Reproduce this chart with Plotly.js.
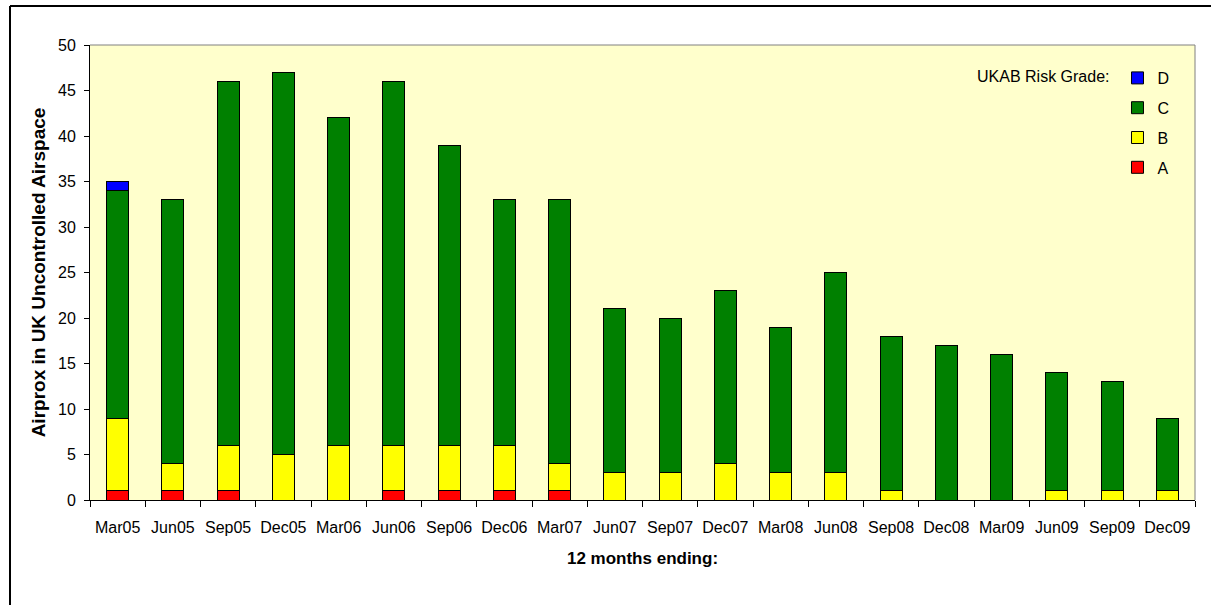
<!DOCTYPE html>
<html>
<head>
<meta charset="utf-8">
<script src="https://cdn.plot.ly/plotly-3.0.1.min.js"></script>
<style>
  html, body { margin: 0; padding: 0; background: #ffffff; }
  #chart { width: 1216px; height: 605px; }
</style>
</head>
<body>
<div id="chart"></div>
<script>
const categories = ["Mar05","Jun05","Sep05","Dec05","Mar06","Jun06","Sep06","Dec06","Mar07","Jun07",
                    "Sep07","Dec07","Mar08","Jun08","Sep08","Dec08","Mar09","Jun09","Sep09","Dec09"];
const gradeA = [1, 1, 1, 0, 0, 1, 1, 1, 1, 0, 0, 0, 0, 0, 0, 0, 0, 0, 0, 0];
const gradeB = [8, 3, 5, 5, 6, 5, 5, 5, 3, 3, 3, 4, 3, 3, 1, 0, 0, 1, 1, 1];
const gradeC = [25, 29, 40, 42, 36, 40, 33, 27, 29, 18, 17, 19, 16, 22, 17, 17, 16, 13, 12, 8];
const gradeD = [1, 0, 0, 0, 0, 0, 0, 0, 0, 0, 0, 0, 0, 0, 0, 0, 0, 0, 0, 0];

const seriesNames = ["A", "B", "C", "D"];
const seriesColors = ["#FF0000", "#FFFF00", "#008000", "#0000FF"];
const seriesValues = [gradeA, gradeB, gradeC, gradeD];

const FONT = "Liberation Sans, Arial, sans-serif";

const traces = seriesValues.map((vals, i) => ({
  type: "bar",
  name: seriesNames[i],
  x: categories,
  y: vals,
  legendgroup: seriesNames[i],
  legendrank: 4 - i,
  marker: { color: seriesColors[i], line: { color: "#000000", width: 1 } },
  hoverinfo: "x+y+name"
}));

// plot area in pixels: x 90..1195, y 45..500
const L = 90, R = 1195, T = 45, B = 500;
const px = v => (v - L) / (R - L);
const py = v => (B - v) / (B - T);

const layout = {
  width: 1216,
  height: 605,
  margin: { l: L, r: 1216 - R, t: T, b: 605 - B, pad: 0 },
  paper_bgcolor: "#ffffff",
  plot_bgcolor: "#FFFFCC",
  barmode: "stack",
  bargap: 0.6,
  showlegend: true,
  font: { family: FONT, size: 16, color: "#000000" },
  legend: {
    x: px(975), y: py(61), xanchor: "left", yanchor: "top",
    bgcolor: "rgba(0,0,0,0)",
    traceorder: "grouped",
    tracegroupgap: 6,
    font: { family: FONT, size: 16, color: "#000000" },
    title: { text: "UKAB Risk Grade:", side: "left", font: { family: FONT, size: 16, color: "#000000" } },
    itemwidth: 30
  },
  xaxis: {
    type: "category",
    title: { text: "<b>12 months ending:</b>", font: { family: FONT, size: 17, color: "#000000" }, standoff: 16 },
    tickfont: { family: FONT, size: 16, color: "#000000" },
    tickangle: 0,
    showline: true, linecolor: "#000000", linewidth: 1,
    ticks: "outside", tickson: "boundaries", ticklen: 6, tickcolor: "#000000",
    ticklabelstandoff: 13,
    showgrid: false, zeroline: false,
    fixedrange: true
  },
  yaxis: {
    title: { text: "<b>Airprox in UK Uncontrolled Airspace</b>", font: { family: FONT, size: 19, color: "#000000" }, standoff: 7 },
    range: [0, 50], dtick: 5, tick0: 0,
    tickfont: { family: FONT, size: 16, color: "#000000" },
    showline: true, linecolor: "#000000", linewidth: 1,
    ticks: "outside", ticklen: 5, tickcolor: "#000000",
    ticklabelstandoff: 5,
    showgrid: false, zeroline: false,
    fixedrange: true
  },
  shapes: [
    { type: "line", xref: "paper", yref: "paper", x0: 0, x1: 1, y0: 1, y1: 1, line: { color: "#808080", width: 1 } },
    { type: "line", xref: "paper", yref: "paper", x0: 1, x1: 1, y0: 0, y1: 1, line: { color: "#808080", width: 1 } },
    { type: "line", xref: "paper", yref: "paper", x0: px(10), x1: px(10), y0: py(6), y1: py(606), line: { color: "#000000", width: 2 } },
    { type: "line", xref: "paper", yref: "paper", x0: px(10), x1: px(1211), y0: py(6), y1: py(6), line: { color: "#000000", width: 2 } }
  ]
};

Plotly.newPlot("chart", traces, layout, { displayModeBar: false });
</script>
</body>
</html>
